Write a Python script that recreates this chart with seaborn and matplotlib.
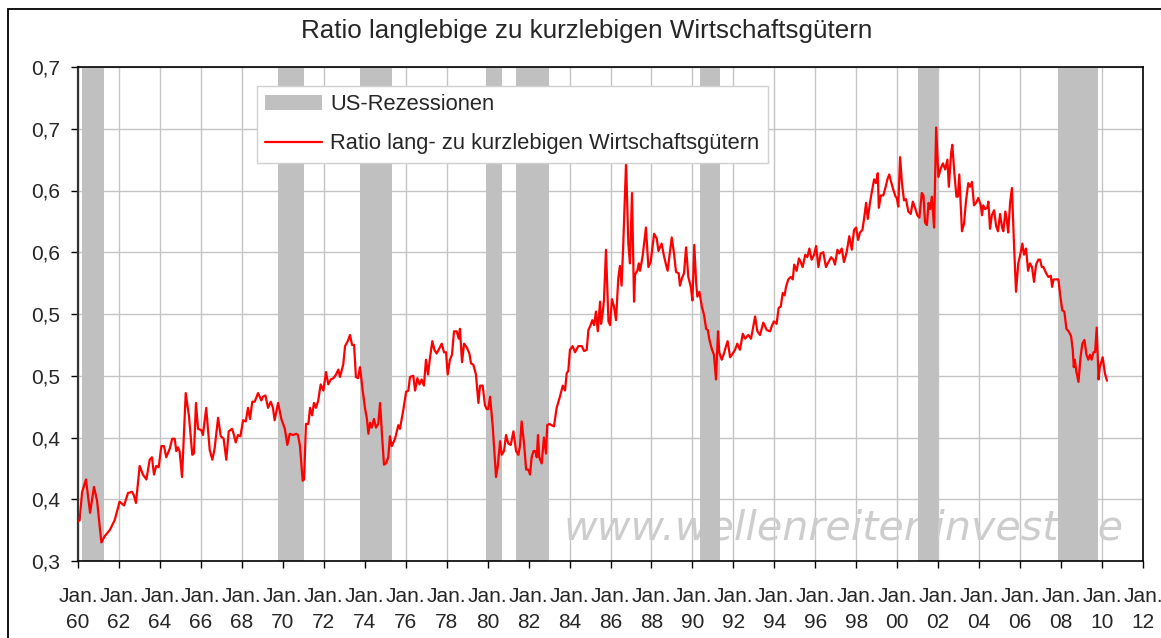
import matplotlib
matplotlib.use("Agg")
import matplotlib.pyplot as plt
import seaborn as sns
import pandas as pd
from matplotlib.patches import Rectangle, Patch
from matplotlib.lines import Line2D

# ---------------- data ----------------
title = "Ratio langlebige zu kurzlebigen Wirtschaftsgütern"
series_label = "Ratio lang- zu kurzlebigen Wirtschaftsgütern"
recession_label = "US-Rezessionen"
watermark = "www.wellenreiter-invest.de"

years = [
    1960.00, 1960.08, 1960.20, 1960.39, 1960.59, 1960.78, 1960.93, 1961.14, 1961.30, 1961.55,
    1961.79, 1962.03, 1962.25, 1962.44, 1962.64, 1962.73, 1962.83, 1963.01, 1963.17, 1963.34,
    1963.50, 1963.61, 1963.71, 1963.82, 1963.94, 1964.07, 1964.20, 1964.31, 1964.48, 1964.60,
    1964.72, 1964.80, 1964.88, 1964.96, 1965.08, 1965.26, 1965.42, 1965.58, 1965.66, 1965.76,
    1965.86, 1966.02, 1966.10, 1966.26, 1966.43, 1966.56, 1966.67, 1966.84, 1966.97, 1967.11,
    1967.24, 1967.36, 1967.52, 1967.60, 1967.70, 1967.81, 1967.93, 1968.06, 1968.19, 1968.30,
    1968.40, 1968.51, 1968.63, 1968.79, 1968.95, 1969.03, 1969.15, 1969.28, 1969.41, 1969.52,
    1969.60, 1969.77, 1969.93, 1970.10, 1970.22, 1970.34, 1970.50, 1970.66, 1970.74, 1970.84,
    1970.97, 1971.04, 1971.13, 1971.25, 1971.33, 1971.43, 1971.52, 1971.62, 1971.73, 1971.85,
    1971.98, 1972.11, 1972.22, 1972.34, 1972.47, 1972.60, 1972.71, 1972.79, 1972.95, 1973.04,
    1973.17, 1973.28, 1973.38, 1973.48, 1973.57, 1973.67, 1973.77, 1973.90, 1974.03, 1974.10,
    1974.18, 1974.26, 1974.34, 1974.45, 1974.55, 1974.66, 1974.75, 1974.84, 1974.94, 1975.04,
    1975.15, 1975.23, 1975.32, 1975.48, 1975.64, 1975.72, 1975.88, 1976.02, 1976.13, 1976.21,
    1976.37, 1976.46, 1976.57, 1976.67, 1976.78, 1976.89, 1976.99, 1977.09, 1977.19, 1977.30,
    1977.40, 1977.51, 1977.64, 1977.76, 1977.87, 1977.97, 1978.05, 1978.16, 1978.26, 1978.36,
    1978.49, 1978.59, 1978.65, 1978.75, 1978.85, 1978.98, 1979.11, 1979.19, 1979.30, 1979.43,
    1979.55, 1979.63, 1979.76, 1979.87, 1979.96, 1980.03, 1980.12, 1980.25, 1980.41, 1980.49,
    1980.61, 1980.69, 1980.80, 1980.90, 1981.01, 1981.13, 1981.26, 1981.39, 1981.50, 1981.58,
    1981.66, 1981.78, 1981.88, 1981.99, 1982.07, 1982.15, 1982.24, 1982.33, 1982.40, 1982.46,
    1982.52, 1982.64, 1982.75, 1982.85, 1982.91, 1983.01, 1983.13, 1983.24, 1983.37, 1983.53,
    1983.67, 1983.78, 1983.86, 1983.94, 1984.02, 1984.15, 1984.27, 1984.43, 1984.60, 1984.71,
    1984.84, 1984.92, 1985.03, 1985.11, 1985.20, 1985.29, 1985.38, 1985.49, 1985.54, 1985.62,
    1985.68, 1985.78, 1985.90, 1985.98, 1986.07, 1986.17, 1986.27, 1986.38, 1986.46, 1986.54,
    1986.62, 1986.76, 1986.87, 1986.95, 1987.05, 1987.15, 1987.20, 1987.31, 1987.38, 1987.44,
    1987.57, 1987.73, 1987.85, 1987.96, 1988.13, 1988.26, 1988.34, 1988.50, 1988.61, 1988.71,
    1988.79, 1988.87, 1988.99, 1989.10, 1989.20, 1989.33, 1989.39, 1989.49, 1989.59, 1989.69,
    1989.80, 1989.92, 1990.00, 1990.09, 1990.18, 1990.24, 1990.34, 1990.46, 1990.57, 1990.67,
    1990.75, 1990.83, 1990.94, 1991.05, 1991.15, 1991.25, 1991.31, 1991.43, 1991.54, 1991.64,
    1991.72, 1991.84, 1991.97, 1992.08, 1992.19, 1992.32, 1992.46, 1992.57, 1992.73, 1992.86,
    1992.94, 1993.06, 1993.17, 1993.30, 1993.46, 1993.63, 1993.79, 1993.87, 1993.98, 1994.11,
    1994.21, 1994.31, 1994.41, 1994.50, 1994.57, 1994.68, 1994.80, 1994.90, 1994.97, 1995.09,
    1995.20, 1995.29, 1995.38, 1995.51, 1995.61, 1995.71, 1995.82, 1995.94, 1996.04, 1996.15,
    1996.26, 1996.39, 1996.52, 1996.64, 1996.77, 1996.88, 1996.96, 1997.08, 1997.17, 1997.29,
    1997.40, 1997.53, 1997.66, 1997.78, 1997.89, 1997.99, 1998.09, 1998.18, 1998.30, 1998.38,
    1998.48, 1998.56, 1998.67, 1998.75, 1998.87, 1998.96, 1999.05, 1999.10, 1999.20, 1999.32,
    1999.42, 1999.52, 1999.61, 1999.70, 1999.82, 1999.92, 1999.98, 2000.05, 2000.14, 2000.23,
    2000.33, 2000.43, 2000.54, 2000.66, 2000.76, 2000.87, 2000.98, 2001.08, 2001.20, 2001.28,
    2001.36, 2001.45, 2001.53, 2001.61, 2001.69, 2001.80, 2001.90, 2002.01, 2002.13, 2002.23,
    2002.34, 2002.45, 2002.52, 2002.63, 2002.69, 2002.79, 2002.89, 2002.96, 2003.03, 2003.08,
    2003.16, 2003.26, 2003.36, 2003.47, 2003.56, 2003.65, 2003.75, 2003.85, 2003.96, 2004.08,
    2004.14, 2004.20, 2004.29, 2004.40, 2004.45, 2004.53, 2004.62, 2004.73, 2004.83, 2004.92,
    2005.02, 2005.12, 2005.18, 2005.28, 2005.35, 2005.42, 2005.51, 2005.60, 2005.70, 2005.80,
    2005.91, 2006.03, 2006.11, 2006.19, 2006.29, 2006.39, 2006.48, 2006.58, 2006.68, 2006.78,
    2006.89, 2006.97, 2007.06, 2007.14, 2007.27, 2007.38, 2007.50, 2007.56, 2007.63, 2007.76,
    2007.87, 2007.96, 2008.06, 2008.16, 2008.26, 2008.37, 2008.49, 2008.57, 2008.62, 2008.67,
    2008.75, 2008.85, 2008.95, 2009.04, 2009.14, 2009.24, 2009.33, 2009.41, 2009.49, 2009.58,
    2009.66, 2009.74, 2009.83, 2009.89, 2010.03, 2010.14, 2010.24,
]

ratio = [
    0.332, 0.333, 0.356, 0.366, 0.339, 0.360, 0.349, 0.315, 0.320, 0.325,
    0.333, 0.348, 0.345, 0.355, 0.356, 0.353, 0.347, 0.377, 0.370, 0.366,
    0.382, 0.384, 0.370, 0.377, 0.376, 0.393, 0.393, 0.384, 0.391, 0.399,
    0.399, 0.389, 0.392, 0.389, 0.368, 0.436, 0.417, 0.386, 0.387, 0.428,
    0.407, 0.406, 0.402, 0.424, 0.390, 0.382, 0.391, 0.416, 0.401, 0.399,
    0.382, 0.405, 0.407, 0.403, 0.396, 0.402, 0.401, 0.414, 0.413, 0.424,
    0.415, 0.429, 0.429, 0.436, 0.430, 0.433, 0.434, 0.424, 0.429, 0.424,
    0.414, 0.428, 0.415, 0.407, 0.394, 0.403, 0.402, 0.403, 0.402, 0.393,
    0.365, 0.366, 0.411, 0.411, 0.424, 0.418, 0.428, 0.424, 0.430, 0.443,
    0.438, 0.453, 0.443, 0.447, 0.448, 0.451, 0.455, 0.449, 0.459, 0.474,
    0.478, 0.483, 0.475, 0.475, 0.449, 0.448, 0.457, 0.438, 0.422, 0.416,
    0.403, 0.412, 0.408, 0.415, 0.408, 0.411, 0.428, 0.403, 0.378, 0.379,
    0.384, 0.401, 0.393, 0.399, 0.410, 0.407, 0.422, 0.437, 0.438, 0.449,
    0.450, 0.438, 0.448, 0.443, 0.447, 0.442, 0.463, 0.451, 0.465, 0.478,
    0.471, 0.468, 0.472, 0.476, 0.469, 0.469, 0.451, 0.463, 0.467, 0.486,
    0.486, 0.480, 0.488, 0.461, 0.476, 0.473, 0.468, 0.460, 0.459, 0.451,
    0.428, 0.442, 0.442, 0.426, 0.423, 0.423, 0.433, 0.409, 0.368, 0.376,
    0.397, 0.386, 0.389, 0.402, 0.395, 0.394, 0.405, 0.389, 0.386, 0.393,
    0.413, 0.395, 0.374, 0.374, 0.370, 0.384, 0.389, 0.389, 0.384, 0.402,
    0.384, 0.379, 0.400, 0.387, 0.410, 0.411, 0.410, 0.409, 0.424, 0.433,
    0.442, 0.438, 0.452, 0.454, 0.471, 0.474, 0.469, 0.474, 0.474, 0.470,
    0.471, 0.487, 0.491, 0.495, 0.491, 0.502, 0.486, 0.510, 0.492, 0.501,
    0.511, 0.552, 0.494, 0.491, 0.512, 0.506, 0.495, 0.529, 0.539, 0.523,
    0.555, 0.623, 0.557, 0.541, 0.598, 0.510, 0.532, 0.535, 0.541, 0.535,
    0.547, 0.570, 0.538, 0.542, 0.565, 0.561, 0.551, 0.557, 0.547, 0.540,
    0.535, 0.546, 0.562, 0.549, 0.534, 0.533, 0.523, 0.529, 0.533, 0.554,
    0.530, 0.522, 0.511, 0.556, 0.526, 0.514, 0.518, 0.506, 0.499, 0.488,
    0.487, 0.479, 0.472, 0.467, 0.447, 0.486, 0.469, 0.463, 0.468, 0.474,
    0.478, 0.465, 0.468, 0.471, 0.476, 0.471, 0.484, 0.480, 0.483, 0.480,
    0.487, 0.498, 0.486, 0.483, 0.493, 0.487, 0.486, 0.490, 0.494, 0.492,
    0.505, 0.506, 0.517, 0.515, 0.522, 0.528, 0.530, 0.528, 0.540, 0.535,
    0.545, 0.542, 0.538, 0.548, 0.546, 0.553, 0.544, 0.548, 0.555, 0.538,
    0.549, 0.550, 0.538, 0.542, 0.546, 0.544, 0.540, 0.552, 0.549, 0.553,
    0.542, 0.550, 0.563, 0.552, 0.568, 0.570, 0.560, 0.566, 0.568, 0.577,
    0.590, 0.577, 0.590, 0.598, 0.609, 0.606, 0.614, 0.586, 0.596, 0.596,
    0.602, 0.609, 0.613, 0.607, 0.600, 0.595, 0.594, 0.587, 0.627, 0.606,
    0.592, 0.593, 0.583, 0.581, 0.591, 0.586, 0.580, 0.578, 0.598, 0.596,
    0.574, 0.572, 0.590, 0.585, 0.595, 0.570, 0.651, 0.611, 0.618, 0.622,
    0.617, 0.625, 0.603, 0.630, 0.637, 0.614, 0.595, 0.595, 0.613, 0.595,
    0.567, 0.573, 0.592, 0.606, 0.603, 0.607, 0.588, 0.590, 0.594, 0.588,
    0.580, 0.588, 0.585, 0.586, 0.591, 0.569, 0.580, 0.584, 0.571, 0.567,
    0.581, 0.570, 0.567, 0.583, 0.576, 0.566, 0.590, 0.602, 0.557, 0.518,
    0.541, 0.550, 0.557, 0.548, 0.553, 0.535, 0.541, 0.538, 0.526, 0.540,
    0.544, 0.544, 0.538, 0.538, 0.533, 0.530, 0.531, 0.522, 0.528, 0.528,
    0.528, 0.515, 0.503, 0.502, 0.488, 0.486, 0.482, 0.471, 0.457, 0.463,
    0.453, 0.445, 0.465, 0.476, 0.479, 0.467, 0.463, 0.467, 0.463, 0.469,
    0.469, 0.489, 0.447, 0.457, 0.465, 0.452, 0.446,
]

recession_start = [1960.20, 1969.77, 1973.77, 1979.92, 1981.39, 1990.37, 2001.00, 2007.87]
recession_end = [1961.27, 1971.03, 1975.33, 1980.70, 1983.00, 1991.35, 2001.98, 2009.82]

ytick_values = [0.30, 0.35, 0.40, 0.45, 0.50, 0.55, 0.60, 0.65, 0.70]
ytick_labels = ["0,3", "0,4", "0,4", "0,5", "0,5", "0,6", "0,6", "0,7", "0,7"]
xtick_years = list(range(1960, 2013, 2))
xtick_labels = ["Jan.\n%02d" % (y % 100) for y in xtick_years]

# ---------------- style ----------------
sns.set_style("white")
plt.rcParams["font.family"] = ["Liberation Sans", "DejaVu Sans"]

W, H = 1161, 638
fig = plt.figure(figsize=(W / 100, H / 100), dpi=100)
fig.patch.set_facecolor("white")
ax = fig.add_axes([78 / W, (H - 561) / H, (1143 - 78) / W, (561 - 67) / H])
ax.set_facecolor("white")

# outer chart-area frame (left and top visible)
fig.add_artist(Rectangle((8 / W, -0.05), 1.2, 1 - 9 / H + 0.05,
                         transform=fig.transFigure, fill=False,
                         edgecolor="black", linewidth=1.3, clip_on=False))

# watermark (behind bands)
ax.text(0.7188, 0.066, watermark, transform=ax.transAxes, ha="center", va="center",
        fontsize=29.7, style="italic", color="#cdcdcd", family="DejaVu Sans", zorder=0.6)

# recession bands
band_color = "#c0c0c0"
for s, e in zip(recession_start, recession_end):
    ax.axvspan(s, e, facecolor=band_color, edgecolor="none", zorder=1)

df = pd.DataFrame({"Jahr": years, "Ratio": ratio})
sns.lineplot(data=df, x="Jahr", y="Ratio", color="#ff0000", linewidth=1.6,
             estimator=None, ax=ax, zorder=3)

ax.set_xlim(1960, 2012)
ax.set_ylim(0.30, 0.70)
ax.set_xticks(xtick_years)
ax.set_xticklabels(xtick_labels, fontsize=15, linespacing=1.42)
ax.set_yticks(ytick_values)
ax.set_yticklabels(ytick_labels, fontsize=15)
ax.set_xlabel("")
ax.set_ylabel("")

ax.set_axisbelow(True)
ax.grid(True, which="major", axis="both", color="#c4c4c4", linewidth=1.0)
ax.tick_params(axis="x", direction="out", length=5, width=1, color="black", pad=14)
ax.tick_params(axis="y", direction="out", length=5, width=1, color="black", pad=8)
ax.tick_params(bottom=True, left=True)

for side in ["top", "right", "bottom"]:
    ax.spines[side].set_visible(True)
    ax.spines[side].set_color("black")
    ax.spines[side].set_linewidth(1.2)
ax.spines["left"].set_color("#333333")
ax.spines["left"].set_linewidth(1.6)

handles = [Patch(facecolor=band_color, edgecolor="none"),
           Line2D([], [], color="#ff0000", linewidth=1.6)]
leg = fig.legend(handles, [recession_label, series_label], loc="upper left",
                 bbox_to_anchor=(257 / W, 1 - 86 / H), bbox_transform=fig.transFigure,
                 fontsize=15.75, frameon=True, fancybox=False, framealpha=1,
                 edgecolor="#d0d0d0", borderpad=0.38, handlelength=2.6,
                 handletextpad=0.38, labelspacing=0.82, borderaxespad=0)
leg.get_frame().set_linewidth(1.0)

fig.text(587 / W, 1 - 31 / H, title, ha="center", va="center", fontsize=18.7)

fig.savefig("out.png", dpi=100, facecolor="white")
